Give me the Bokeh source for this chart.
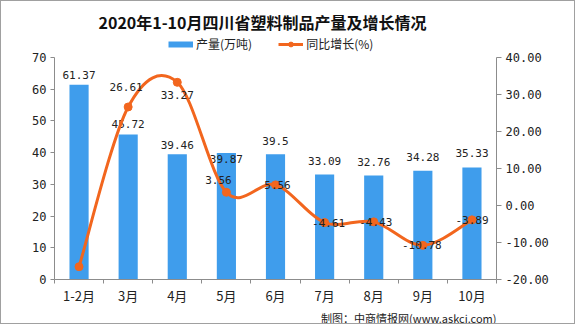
from bokeh.plotting import figure
from bokeh.models import (Range1d, LinearAxis, FixedTicker, NumeralTickFormatter,
                          ColumnDataSource, Title, Legend, LegendItem)
from bokeh.core.properties import value
from bokeh.embed import file_html
from bokeh.resources import INLINE

months = ["1-2月", "3月", "4月", "5月", "6月", "7月", "8月", "9月", "10月"]
output = [61.37, 45.72, 39.46, 39.87, 39.5, 33.09, 32.76, 34.28, 35.33]
output_labels = ["61.37", "45.72", "39.46", "39.87", "39.5", "33.09", "32.76", "34.28", "35.33"]
growth = [-16.54, 26.61, 33.27, 3.56, 5.56, -4.61, -4.43, -10.78, -3.89]
growth_labels = ["-16.54", "26.61", "33.27", "3.56", "5.56", "-4.61", "-4.43", "-10.78", "-3.89"]
left_ticks = [0, 10, 20, 30, 40, 50, 60, 70]
right_ticks = [-20, -10, 0, 10, 20, 30, 40]

title = "2020年1-10月四川省塑料制品产量及增长情况"
source_text = "制图：中商情报网(www.askci.com)"

BLUE = "#3F9DEC"
ORANGE = "#F2661E"
AXIS = "#8C8C8C"
TXT = "#222222"
NUMFONT = "DejaVu Sans Mono"
CJK = "Noto Sans CJK SC"

n = len(months)
centers = [i + 0.5 for i in range(n)]
bounds = [i for i in range(n + 1)]

# axes span y=57..280 px; frame extended up to y=33 to host the legend
FRAME_TOP, AX_TOP, AX_BOT, AX_LEFT = 33, 57, 280, 54
lpx = (AX_BOT - AX_TOP) / (left_ticks[-1] - left_ticks[0])
rpx = (AX_BOT - AX_TOP) / (right_ticks[-1] - right_ticks[0])
extra = AX_TOP - FRAME_TOP

p = figure(width=575, height=324, output_backend="svg", toolbar_location=None,
           x_range=Range1d(0, n),
           y_range=Range1d(left_ticks[0], left_ticks[-1] + extra / lpx),
           min_border_left=AX_LEFT - 1, min_border_right=80, min_border_top=FRAME_TOP - 1,
           min_border_bottom=326 - AX_BOT - 1)
p.styles = {"border": "1px solid #A0A0A0"}
p.outline_line_color = None
p.xgrid.visible = False
p.ygrid.visible = False
p.extra_y_ranges = {"g": Range1d(right_ticks[0], right_ticks[-1] + extra / rpx)}

p.title.text = title
p.title.align = "left"
p.title.offset = 44
p.title.text_font = CJK
p.title.text_font_size = "16px"
p.title.text_font_style = "bold"
p.title.text_color = "#111111"
p.title.standoff = 0

# left axis
la = p.yaxis[0]
la.ticker = FixedTicker(ticks=left_ticks)
la.bounds = (left_ticks[0], left_ticks[-1])
la.axis_line_color = AXIS
la.major_tick_line_color = AXIS
la.major_tick_out = 4
la.major_tick_in = 0
la.minor_tick_line_color = None
la.major_label_text_font = NUMFONT
la.major_label_text_font_size = "12px"
la.major_label_text_color = TXT
la.major_label_standoff = 4

# bottom axis
ba = p.xaxis[0]
ba.ticker = FixedTicker(ticks=centers, minor_ticks=bounds)
ba.major_label_overrides = {c: m for c, m in zip(centers, months)}
ba.axis_line_color = AXIS
ba.major_tick_line_color = None
ba.minor_tick_line_color = AXIS
ba.minor_tick_out = 4
ba.minor_tick_in = 0
ba.major_label_text_font = CJK
ba.major_label_text_font_size = "13px"
ba.major_label_text_color = TXT
ba.major_label_standoff = 0

# right axis
ra = LinearAxis(y_range_name="g", ticker=FixedTicker(ticks=right_ticks),
                formatter=NumeralTickFormatter(format="0.00"),
                bounds=(right_ticks[0], right_ticks[-1]))
ra.axis_line_color = AXIS
ra.major_tick_line_color = AXIS
ra.major_tick_out = 5
ra.major_tick_in = 0
ra.minor_tick_line_color = None
ra.major_label_text_font = NUMFONT
ra.major_label_text_font_size = "12px"
ra.major_label_text_color = TXT
ra.major_label_standoff = 4
p.add_layout(ra, "right")

# bars
bars = ColumnDataSource(dict(x=centers, top=output, lab=output_labels,
                             dy=[-10, -10, -9, 6, -13, -14, -14, -14, -14]))
p.vbar(x="x", top="top", width=0.39, source=bars, fill_color=BLUE, line_color=None)
p.text(x="x", y="top", text="lab", source=bars, y_offset="dy", text_align="center",
       text_baseline="middle", text_font=value(NUMFONT), text_font_size="11px", text_color=TXT)

# smooth growth line (Catmull-Rom style bezier segments)
xs0, ys0, xs1, ys1, cx0, cy0, cx1, cy1 = [], [], [], [], [], [], [], []
for i in range(n - 1):
    a = max(i - 1, 0)
    b = min(i + 2, n - 1)
    xs0.append(centers[i]); ys0.append(growth[i])
    xs1.append(centers[i + 1]); ys1.append(growth[i + 1])
    cx0.append(centers[i] + (centers[i + 1] - centers[a]) / 6)
    cy0.append(growth[i] + (growth[i + 1] - growth[a]) / 6)
    cx1.append(centers[i + 1] - (centers[b] - centers[i]) / 6)
    cy1.append(growth[i + 1] - (growth[b] - growth[i]) / 6)
p.bezier(x0=xs0, y0=ys0, x1=xs1, y1=ys1, cx0=cx0, cy0=cy0, cx1=cx1, cy1=cy1,
         line_color=ORANGE, line_width=3, y_range_name="g")
pts = p.scatter(x=centers, y=growth, size=8, fill_color=ORANGE, line_color=ORANGE,
                y_range_name="g")

gsrc = ColumnDataSource(dict(x=centers, y=growth, lab=growth_labels,
                             dx=[0, -2, 0, -8, 2, 4, 2, -1, 0],
                             dy=[17, -20, 13, -12, 0, 0, 0, 0, 0]))
p.text(x="x", y="y", text="lab", source=gsrc, x_offset="dx", y_offset="dy",
       text_align="center", text_baseline="middle", y_range_name="g",
       text_font=value(NUMFONT), text_font_size="11px", text_color=TXT)

# legend proxies (hidden renderers, used only for legend swatches)
lg_bar = p.line(x=centers, y=output, line_color=BLUE, line_width=6, visible=False)
lg_line = p.line(x=centers, y=growth, line_color=ORANGE, line_width=3,
                 y_range_name="g", visible=False)
legend = Legend(items=[LegendItem(label="产量(万吨)", renderers=[lg_bar]),
                       LegendItem(label="同比增长(%)", renderers=[lg_line, pts])],
                orientation="horizontal", location=(114, AX_BOT - 53), glyph_width=25,
                glyph_height=12, label_height=12, label_standoff=3, spacing=26,
                padding=0, margin=0, border_line_color=None, background_fill_alpha=0,
                label_text_font=CJK, label_text_font_size="12px", label_text_color=TXT)
p.add_layout(legend)

src = Title(text=source_text, align="right", text_font=CJK, text_font_size="11px",
            text_font_style="normal", text_color=TXT, standoff=0, text_line_height=0.8)
p.add_layout(src, "below")

open("out.html", "w").write(file_html(p, INLINE))
